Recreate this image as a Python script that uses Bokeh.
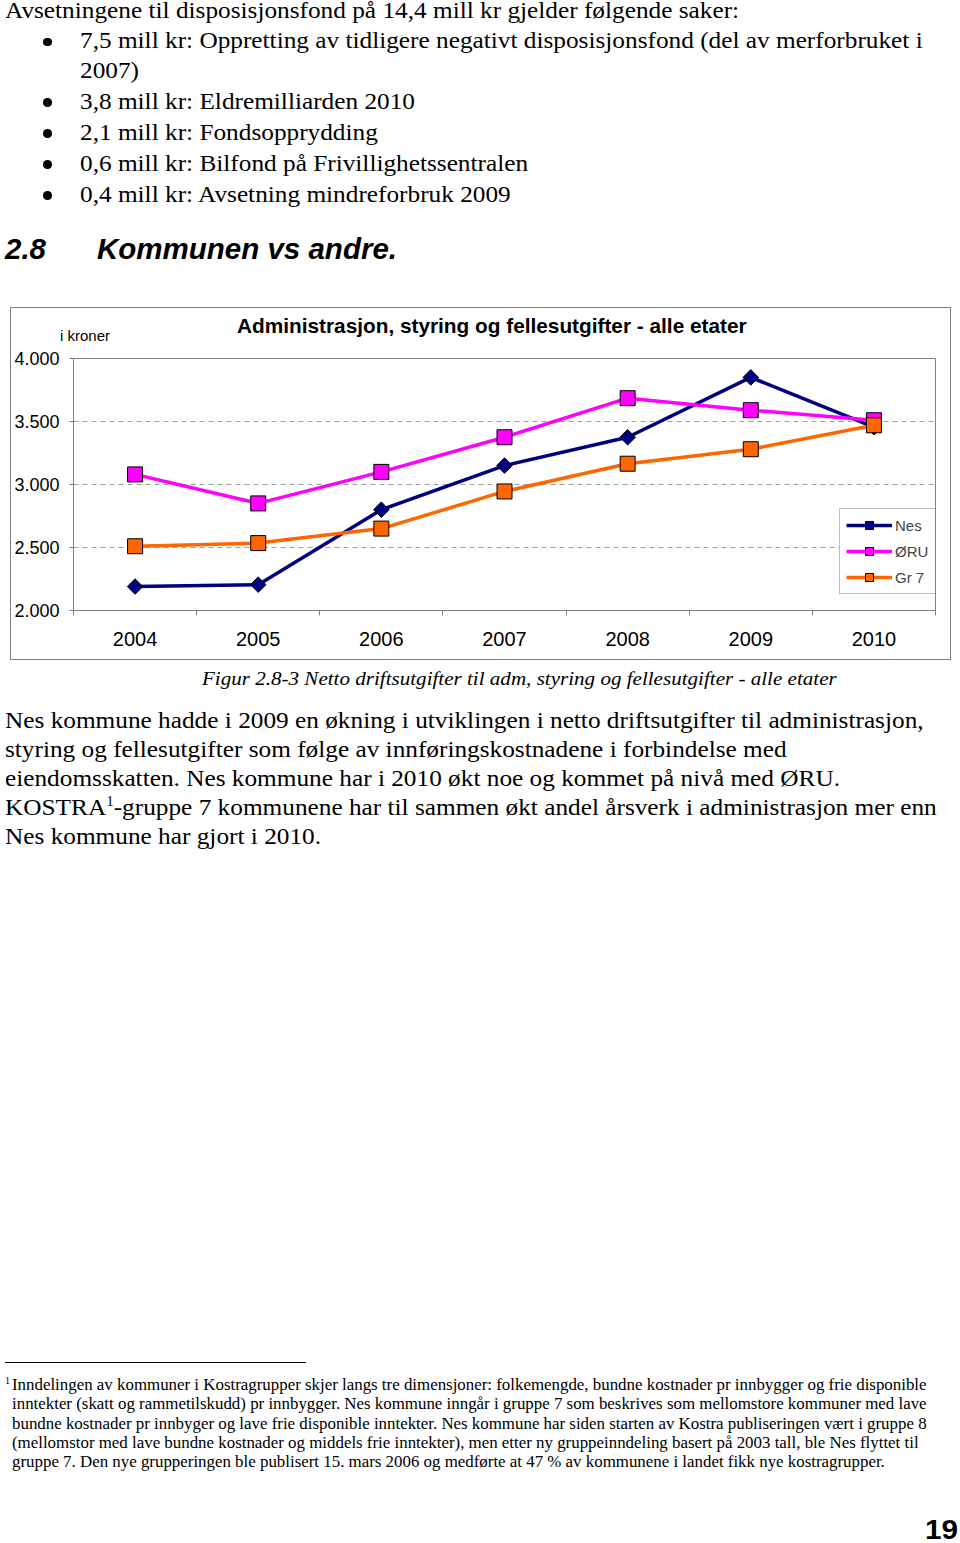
from math import pi
from bokeh.plotting import figure
from bokeh.models import Div, FixedTicker
from bokeh.layouts import column
from bokeh.embed import file_html
from bokeh.resources import INLINE

# ---------------- data ----------------
years = [2004, 2005, 2006, 2007, 2008, 2009, 2010]
nes = [2190, 2205, 2800, 3150, 3375, 3850, 3455]
oru = [3080, 2850, 3100, 3375, 3685, 3590, 3510]
gr7 = [2510, 2535, 2650, 2945, 3165, 3280, 3470]
series_names = ["Nes", "ØRU", "Gr 7"]
series_colors = ["#000080", "#FF00FF", "#FF6600"]
y_ticks = [2000, 2500, 3000, 3500, 4000]
y_tick_labels = ["2.000", "2.500", "3.000", "3.500", "4.000"]
chart_title = "Administrasjon, styring og fellesutgifter - alle etater"
unit_label = "i kroner"

top_lines = [
    "Avsetningene til disposisjonsfond på 14,4 mill kr gjelder følgende saker:",
]
bullet_lines = [
    ["7,5 mill kr: Oppretting av tidligere negativt disposisjonsfond (del av merforbruket i", "2007)"],
    ["3,8 mill kr: Eldremilliarden 2010"],
    ["2,1 mill kr: Fondsopprydding"],
    ["0,6 mill kr: Bilfond på Frivillighetssentralen"],
    ["0,4 mill kr: Avsetning mindreforbruk 2009"],
]
heading_num = "2.8"
heading_text = "Kommunen vs andre."
caption = "Figur 2.8-3 Netto driftsutgifter til adm, styring og fellesutgifter - alle etater"
para_lines = [
    "Nes kommune hadde i 2009 en økning i utviklingen i netto driftsutgifter til administrasjon,",
    "styring og fellesutgifter som følge av innføringskostnadene i forbindelse med",
    "eiendomsskatten. Nes kommune har i 2010 økt noe og kommet på nivå med ØRU.",
    "KOSTRA<SUP>-gruppe 7 kommunene har til sammen økt andel årsverk i administrasjon mer enn",
    "Nes kommune har gjort i 2010.",
]
foot_lines = [
    "Inndelingen av kommuner i Kostragrupper skjer langs tre dimensjoner: folkemengde, bundne kostnader pr innbygger og frie disponible",
    "inntekter (skatt og rammetilskudd) pr innbygger. Nes kommune inngår i gruppe 7 som beskrives som mellomstore kommuner med lave",
    "bundne kostnader pr innbyger og lave frie disponible inntekter. Nes kommune har siden starten av Kostra publiseringen vært i gruppe 8",
    "(mellomstor med lave bundne kostnader og middels frie inntekter), men etter ny gruppeinndeling basert på 2003 tall, ble Nes flyttet til",
    "gruppe 7. Den nye grupperingen ble publisert 15. mars 2006 og medførte at 47 % av kommunene i landet fikk nye kostragrupper.",
]
page_number = "19"

SERIF = "Liberation Serif"
SANS = "Liberation Sans"
SX = 1.076  # horizontal stretch of the page text


def ln(x, base, txt, size, top0, fam=SERIF, style="normal", weight="normal", sx=1.0, extra=""):
    asc = 0.8375 if fam == SERIF else 0.8465
    top = base - asc * size - top0
    return (f'<div style="position:absolute;left:{x - 5}px;top:{top:.1f}px;'
            f'font-family:\'{fam}\';font-size:{size}px;font-style:{style};font-weight:{weight};'
            f'line-height:{size}px;white-space:nowrap;color:#000;'
            f'transform:scaleX({sx});transform-origin:0 0;{extra}">{txt}</div>')


def dot(cx, cy, top0, d=8.5):
    return (f'<div style="position:absolute;left:{cx - 5 - d / 2:.1f}px;top:{cy - top0 - d / 2:.1f}px;'
            f'width:{d}px;height:{d}px;border-radius:50%;background:#000;"></div>')


sup = lambda n, s, dy: f'<span style="position:relative;top:-{dy}px;font-size:{s}px;">{n}</span>'

# ---------------- top text block ----------------
T0 = 6
BODY = 23.5
parts = [ln(5, 20, top_lines[0], BODY, T0, sx=SX)]
base = 50
for item in bullet_lines:
    parts.append(dot(47.5, base - 7, T0))
    for k, t in enumerate(item):
        parts.append(ln(80, base, t, BODY, T0, sx=SX))
        if k < len(item) - 1:
            base += 29.5
    base += 31
parts.append(ln(5, 260, heading_num, 29.5, T0, fam=SANS, style="italic", weight="bold"))
parts.append(ln(97, 260, heading_text, 29.5, T0, fam=SANS, style="italic", weight="bold"))
# chart title and unit label, drawn over the chart's top border area
parts.append(ln(60, 342, unit_label, 15, T0, fam=SANS, extra="z-index:20;"))
parts.append(ln(237, 334.5, chart_title, 20.8, T0, fam=SANS, weight="bold", extra="z-index:20;"))
top_html = '<div style="position:relative;width:944px;height:299px;">' + "".join(parts) + "</div>"
top_div = Div(text=top_html, width=944, height=299)

# ---------------- chart ----------------
p = figure(width=941, height=353, x_range=(2003.5, 2010.5), y_range=(2000, 4000),
           output_backend="svg", toolbar_location=None,
           min_border_left=61, min_border_right=17, min_border_top=50, min_border_bottom=51,
           styles={"border": "1px solid #808080", "transform": "translate(10px, -2px)"})
p.outline_line_color = "#808080"
p.background_fill_color = "white"
p.border_fill_color = "white"

p.xgrid.visible = False
p.ygrid.ticker = FixedTicker(ticks=y_ticks)
p.ygrid.grid_line_color = "#a0a0a0"
p.ygrid.grid_line_dash = "5 4"

p.yaxis.ticker = FixedTicker(ticks=y_ticks, minor_ticks=[])
p.yaxis.major_label_overrides = dict(zip(y_ticks, y_tick_labels))
p.yaxis.axis_line_color = "#808080"
p.yaxis.major_tick_line_color = "#808080"
p.yaxis.major_tick_out = 4
p.yaxis.major_tick_in = 0
p.yaxis.major_label_standoff = 10
p.yaxis.major_label_text_font = SANS
p.yaxis.major_label_text_font_size = "18px"
p.yaxis.major_label_text_color = "black"

bounds = [y - 0.5 for y in years] + [years[-1] + 0.5]
p.xaxis.ticker = FixedTicker(ticks=years, minor_ticks=bounds)
p.xaxis.axis_line_color = "#808080"
p.xaxis.major_tick_line_color = None
p.xaxis.major_tick_out = 0
p.xaxis.major_tick_in = 0
p.xaxis.minor_tick_line_color = "#808080"
p.xaxis.minor_tick_out = 5
p.xaxis.minor_tick_in = 0
p.xaxis.major_label_standoff = 16
p.xaxis.major_label_text_font = SANS
p.xaxis.major_label_text_font_size = "20px"
p.xaxis.major_label_text_color = "black"

for vals, name, col in zip([nes, oru, gr7], series_names, series_colors):
    p.line(years, vals, line_color=col, line_width=3.5, legend_label=name)
    if name == "Nes":
        p.scatter(years, vals, marker="square", angle=pi / 4, size=11, fill_color=col,
                  line_color="black", line_width=1, legend_label=name)
    else:
        p.scatter(years, vals, marker="square", size=15, fill_color=col,
                  line_color="black", line_width=1, legend_label=name)

p.legend.location = (766, 16)
p.legend.label_text_font = SANS
p.legend.label_text_font_size = "15px"
p.legend.glyph_width = 46
p.legend.glyph_height = 20
p.legend.label_height = 20
p.legend.label_width = 35
p.legend.label_standoff = 3
p.legend.spacing = 6
p.legend.padding = 6
p.legend.margin = 0
p.legend.border_line_color = "#808080"
p.legend.background_fill_alpha = 1

# ---------------- bottom text block ----------------
B0 = 667
parts = [ln(202, 685, caption, 19.5, B0, style="italic", sx=1.08)]
for i, t in enumerate(para_lines):
    t = t.replace("<SUP>", sup("1", 14, 9))
    parts.append(ln(5, 729 + 29 * i, t, BODY, B0, sx=SX))
parts.append(f'<div style="position:absolute;left:0px;top:{1362 - B0}px;width:301px;height:1px;background:#000;"></div>')
parts.append(ln(5, 1390, sup("1", 10, 6), 15.7, B0))
for i, t in enumerate(foot_lines):
    parts.append(ln(12, 1390 + 19.3 * i, t, 15.7, B0, sx=SX))
# page number: compact line box so it stays inside the page
pn_size, pn_lh, pn_base = 27, 22, 1539
pn_top = pn_base - ((pn_lh - 1.117 * pn_size) / 2 + 0.905 * pn_size) - B0
parts.append(f'<div style="position:absolute;left:{925 - 5}px;top:{pn_top:.1f}px;font-family:\'{SANS}\';'
             f'font-size:{pn_size}px;font-weight:bold;line-height:{pn_lh}px;white-space:nowrap;color:#000;'
             f'transform:scaleX(1.1);transform-origin:0 0;">{page_number}</div>')
bot_html = '<div style="position:relative;width:944px;height:870px;">' + "".join(parts) + "</div>"
bot_div = Div(text=bot_html, width=944, height=870)

layout = column(top_div, p, bot_div, spacing=0)
open("out.html", "w").write(file_html(layout, INLINE))
